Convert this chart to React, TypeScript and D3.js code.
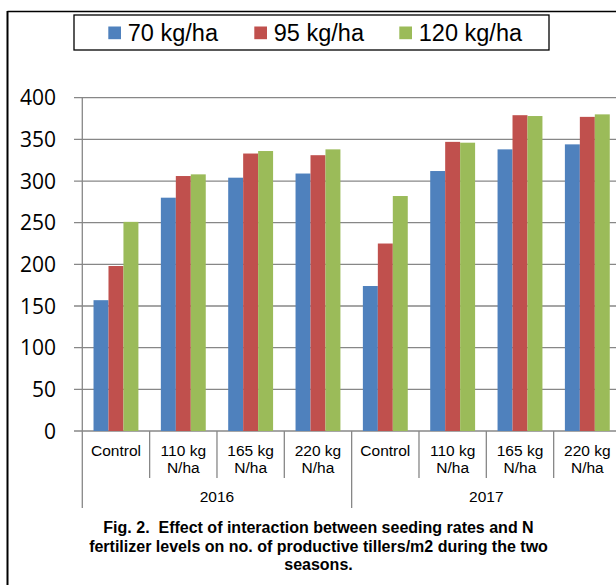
import React from "react";
import * as d3 from "d3";

const years = ["2016", "2017"];
const levels = ["Control", "110 kg|N/ha", "165 kg|N/ha", "220 kg|N/ha"];
const seriesNames = ["70 kg/ha", "95 kg/ha", "120 kg/ha"];
const rate70 = [157, 280, 304, 309, 174, 312, 338, 344];
const rate95 = [198, 306, 333, 331, 225, 347, 379, 377];
const rate120 = [251, 308, 336, 338, 282, 346, 378, 380];
const yTicks = [0, 50, 100, 150, 200, 250, 300, 350, 400];
const captionLines = [
  "Fig. 2.  Effect of interaction between seeding rates and N",
  "fertilizer levels on no. of productive tillers/m2 during the two",
  "seasons.",
];
const colors = ["#4F81BD", "#C0504D", "#9BBB59"];

export default function App() {
  const W = 616, H = 585;
  const left = 82.3, right = 621, top = 97.7, bottom = 431;
  const cats = years.flatMap((y) => levels.map((l) => `${y}|${l}`));
  const x = d3.scaleBand<string>().domain(cats).range([left, right]).paddingInner(0).paddingOuter(0);
  const inner = d3.scaleBand<string>().domain(seriesNames).range([0, x.bandwidth()]).paddingInner(0).paddingOuter(0.75);
  const y = d3.scaleLinear().domain([0, 400]).range([bottom, top]);
  const series = [rate70, rate95, rate120];
  const grid = "#878787";
  const catFont = "Liberation Sans, Arial, sans-serif";

  return (
    <svg width={W} height={H} style={{ position: "absolute", left: 0, top: 0, background: "#fff" }}>
      {/* outer frame */}
      <line x1={7.5} y1={11.5} x2={W} y2={11.5} stroke="#000" strokeWidth={1.5} />
      <line x1={7.5} y1={11} x2={7.5} y2={H} stroke="#000" strokeWidth={2} />

      {/* gridlines */}
      {yTicks.map((t) => (
        <line key={t} x1={74} x2={W} y1={y(t)} y2={y(t)} stroke={grid} strokeWidth={1.3} />
      ))}
      {/* y axis */}
      <line x1={left} x2={left} y1={top} y2={bottom} stroke={grid} strokeWidth={1.3} />
      {yTicks.map((t) => (
        <text key={"l" + t} x={56} y={y(t)} dy="0.36em" textAnchor="end" fontFamily="Open Sans, sans-serif" fontSize={21} fill="#000">
          {t}
        </text>
      ))}

      {/* bars */}
      {series.map((vals, si) =>
        vals.map((v, ci) => (
          <rect
            key={si + "-" + ci}
            x={(x(cats[ci]) as number) + (inner(seriesNames[si]) as number)}
            y={y(v)}
            width={inner.bandwidth()}
            height={bottom - y(v)}
            fill={colors[si]}
          />
        ))
      )}

      {/* category separators */}
      {cats.map((c, i) => {
        const xx = x(c) as number;
        const long = i % levels.length === 0;
        return <line key={"s" + i} x1={xx} x2={xx} y1={bottom} y2={long ? 508 : 478} stroke={grid} strokeWidth={1.3} />;
      })}
      <line x1={right} x2={right} y1={bottom} y2={508} stroke={grid} strokeWidth={1.3} />

      {/* category labels */}
      {cats.map((c, i) => {
        const parts = c.split("|").slice(1);
        const cx = (x(c) as number) + x.bandwidth() / 2;
        return (
          <text key={"c" + i} x={cx} textAnchor="middle" fontFamily={catFont} fontSize={15.5} fill="#000">
            {parts.map((p, j) => (
              <tspan key={j} x={cx} y={456 + j * 17.3}>
                {p}
              </tspan>
            ))}
          </text>
        );
      })}
      {/* year labels */}
      {years.map((yr, i) => {
        const x0 = x(cats[i * levels.length]) as number;
        const x1 = i === years.length - 1 ? right : (x(cats[(i + 1) * levels.length]) as number);
        return (
          <text key={yr} x={(x0 + x1) / 2} y={502.3} textAnchor="middle" fontFamily={catFont} fontSize={15.5} fill="#000">
            {yr}
          </text>
        );
      })}

      {/* legend */}
      <rect x={74} y={15} width={475} height={35} fill="#fff" stroke="#000" strokeWidth={1.3} />
      {seriesNames.map((s, i) => {
        const mx = [108.3, 254.3, 399.3][i];
        return (
          <g key={s}>
            <rect x={mx} y={26.5} width={12.7} height={12.7} fill={colors[i]} />
            <text x={mx + 19.5} y={40.7} fontFamily={catFont} fontSize={23.5} fill="#000">
              {s}
            </text>
          </g>
        );
      })}

      {/* caption */}
      {captionLines.map((l, i) => (
        <text key={i} x={318.5} y={533.3 + i * 18.5} textAnchor="middle" fontFamily={catFont} fontWeight="bold" fontSize={16} fill="#000" style={{ whiteSpace: "pre" }}>
          {l}
        </text>
      ))}
    </svg>
  );
}
